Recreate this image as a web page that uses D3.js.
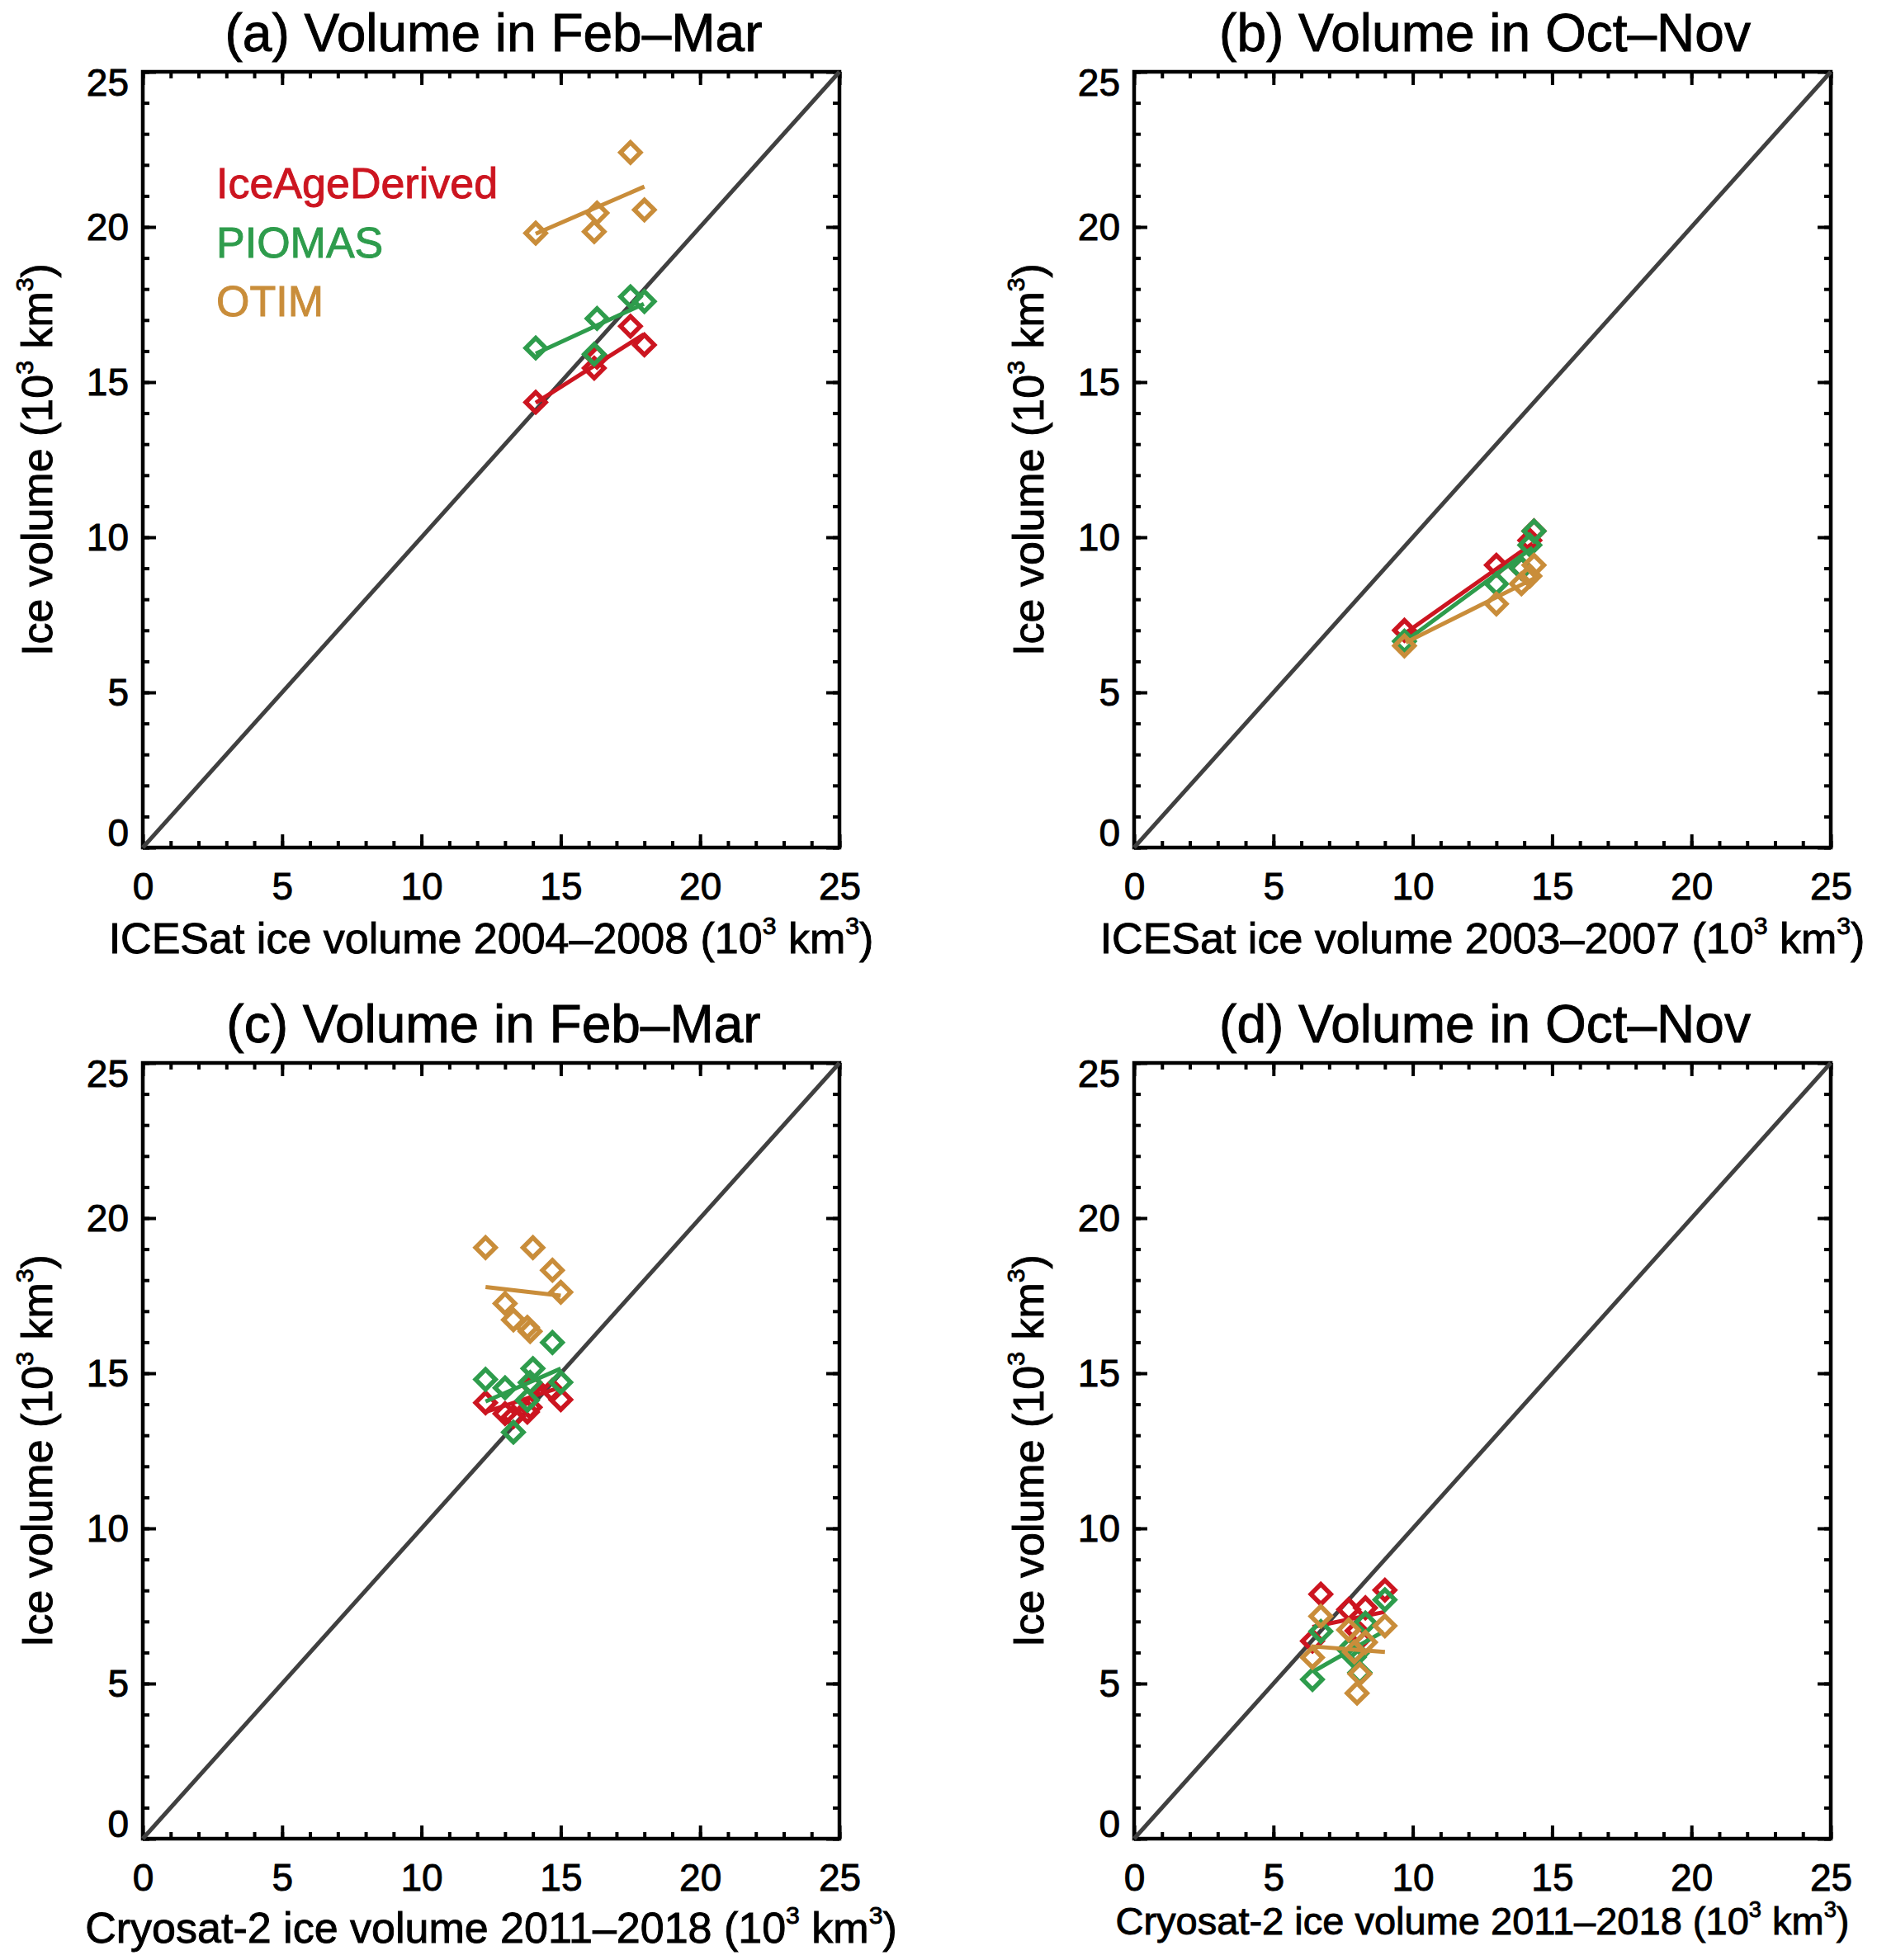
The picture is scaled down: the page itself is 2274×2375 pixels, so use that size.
<!DOCTYPE html>
<html>
<head>
<meta charset="utf-8">
<script src="https://cdn.jsdelivr.net/npm/d3@7"></script>
<style>
  body { margin: 0; background: #fff; }
  text { font-family: "Liberation Sans", Arial, Helvetica, sans-serif; }
</style>
</head>
<body>
<div id="chart"></div>
<script>
//Series Names and Colours (same order in every panel)
let seriesNames = ["IceAgeDerived", "PIOMAS", "OTIM"];
let seriesColors = ["#cc1520", "#2e9c4c", "#c98d3a"];

//Tick Values for Both Axes
let majorTicks = [0, 5, 10, 15, 20, 25];
let minorTicks = d3.range(0, 26, 1);

//(a) ICESat 2004-2008, Feb-Mar
let icesatFebMar = [14.1, 16.2, 16.3, 17.5, 18.0];
let iceAgeA = [14.35, 15.45, 15.8, 16.8, 16.2];
let piomasA = [16.1, 15.9, 17.05, 17.75, 17.6];
let otimA = [19.8, 19.85, 20.45, 22.4, 20.55];
//fit lines: [x1, y1, x2, y2]
let fitsA = [[14.1, 14.33, 17.98, 16.54], [14.1, 15.92, 17.98, 17.52], [14.1, 19.78, 18.0, 21.3]];

//(b) ICESat 2003-2007, Oct-Nov
let icesatOctNov = [9.7, 13.0, 13.9, 14.2, 14.35];
let iceAgeB = [7.0, 9.1, 9.0, 9.9, 10.2];
let piomasB = [6.65, 8.5, 9.0, 9.75, 10.2];
let otimB = [6.5, 7.85, 8.5, 8.75, 9.1];
let fitsB = [[9.75, 6.92, 14.3, 9.8], [9.75, 6.66, 14.3, 9.67], [9.75, 6.61, 14.5, 8.74]];

//(c) Cryosat-2 2011-2018, Feb-Mar
let cryosatFebMar = [12.3, 13.0, 13.3, 13.8, 13.9, 14.0, 14.7, 15.0];
let iceAgeC = [14.05, 13.7, 13.6, 13.75, 13.9, 14.6, 14.45, 14.15];
let piomasC = [14.8, 14.53, 13.1, 14.13, 14.7, 15.15, 15.99, 14.71];
let otimC = [19.05, 17.25, 16.72, 16.48, 16.35, 19.05, 18.32, 17.61];
let fitsC = [[12.3, 13.75, 15.0, 14.55], [12.3, 14.09, 15.0, 15.15], [12.3, 17.78, 15.0, 17.5]];

//(d) Cryosat-2 2011-2018, Oct-Nov
let cryosatOctNov = [6.4, 6.7, 7.7, 7.9, 8.0, 8.1, 8.3, 9.0];
let iceAgeD = [6.37, 7.88, 7.39, 5.89, 6.7, 6.45, 7.44, 8.01];
let piomasD = [5.13, 6.68, 6.1, 5.85, 5.98, 5.35, 6.95, 7.7];
let otimD = [5.84, 7.17, 6.73, 6.02, 4.69, 5.31, 6.33, 6.86];
let fitsD = [[6.4, 6.82, 9.0, 7.31], [6.45, 5.4, 8.95, 6.68], [6.35, 6.2, 9.0, 6.02]];

//Panel Settings Built From the Arrays Above
let panels = [
  {title: "(a) Volume in Feb–Mar", xText: "ICESat ice volume 2004–2008 (10", xSize: 52, xBase: 128,
   x: icesatFebMar, ys: [iceAgeA, piomasA, otimA], fits: fitsA, legend: true, col: 0, row: 0},
  {title: "(b) Volume in Oct–Nov", xText: "ICESat ice volume 2003–2007 (10", xSize: 52, xBase: 128,
   x: icesatOctNov, ys: [iceAgeB, piomasB, otimB], fits: fitsB, legend: false, col: 1, row: 0},
  {title: "(c) Volume in Feb–Mar", xText: "Cryosat-2 ice volume 2011–2018 (10", xSize: 52, xBase: 126,
   x: cryosatFebMar, ys: [iceAgeC, piomasC, otimC], fits: fitsC, legend: false, col: 0, row: 1},
  {title: "(d) Volume in Oct–Nov", xText: "Cryosat-2 ice volume 2011–2018 (10", xSize: 47, xBase: 116,
   x: cryosatOctNov, ys: [iceAgeD, piomasD, otimD], fits: fitsD, legend: false, col: 1, row: 1}
];

//SVG Size and Plot Box Inside Each Panel
let svgWidth = 2274;
let svgHeight = 2375;
let panelStep = 1201;
let margin = {top: 87, left: 173};
let width = 844;
let height = 940;

let svg = d3.select("#chart")
  .append("svg")
  .attr("width", svgWidth)
  .attr("height", svgHeight);

svg.append("rect")
  .attr("width", svgWidth)
  .attr("height", svgHeight)
  .attr("fill", "white");

//Write Text With Superscript 3s, like "(10^3 km^3)"
function addUnits(textSel, lead, size) {
  let parts = [[lead, false], ["3", true], [" km", false], ["3", true], [")", false]];
  let lift = size * 0.45;
  let prevSup = false;
  parts.forEach(function (p) {
    let t = textSel.append("tspan").text(p[0]);
    if (p[1]) {
      t.attr("font-size", size * 0.58).attr("dy", -lift);
    } else {
      t.attr("font-size", size);
      if (prevSup) t.attr("dy", lift);
    }
    prevSup = p[1];
  });
}

//IDL-looking text is a little heavier than the plain font
function heavy(sel, color) {
  sel.attr("fill", color).attr("stroke", color).attr("stroke-width", 0.9);
}

function styleAxis(g) {
  g.select(".domain").remove();
  g.attr("font-family", null).attr("font-size", null);
  g.selectAll(".tick line").attr("stroke", "black").attr("stroke-width", 4);
}

panels.forEach(function (p) {
  let g = svg.append("g")
    .attr("transform", `translate(${p.col * panelStep}, ${p.row * panelStep})`);

  let xScale = d3.scaleLinear().domain([0, 25]).range([margin.left, margin.left + width]);
  let yScale = d3.scaleLinear().domain([0, 25]).range([margin.top + height, margin.top]);

  //Major and Minor Ticks on All Four Sides, Pointing Inwards
  [[d3.axisBottom(xScale), `translate(0, ${margin.top + height})`],
   [d3.axisTop(xScale), `translate(0, ${margin.top})`],
   [d3.axisLeft(yScale), `translate(${margin.left}, 0)`],
   [d3.axisRight(yScale), `translate(${margin.left + width}, 0)`]].forEach(function (a, i) {
    g.append("g").attr("transform", a[1])
      .call(a[0].tickValues(minorTicks).tickSize(-8).tickFormat(""))
      .call(styleAxis);
    let major = g.append("g").attr("transform", a[1])
      .call(a[0].tickValues(majorTicks).tickSize(-16)
        .tickPadding(i === 0 ? 30 : 17)
        .tickFormat(i === 0 || i === 2 ? d3.format("d") : ""))
      .call(styleAxis);
    major.selectAll("text").attr("font-size", 46).call(heavy, "black");
    if (i === 2) {
      //end labels sit just inside the box
      major.selectAll("text").attr("dy", d => d === 0 ? "-0.05em" : d === 25 ? "0.62em" : "0.34em");
    }
  });

  //Plot Box
  g.append("rect")
    .attr("x", margin.left)
    .attr("y", margin.top)
    .attr("width", width)
    .attr("height", height)
    .attr("fill", "none")
    .attr("stroke", "black")
    .attr("stroke-width", 4.5);

  //1:1 Line
  g.append("line")
    .attr("x1", xScale(0)).attr("y1", yScale(0))
    .attr("x2", xScale(25)).attr("y2", yScale(25))
    .attr("stroke", "#404040")
    .attr("stroke-width", 5);

  //Fit Lines and Diamonds for Each Series
  p.ys.forEach(function (ys, s) {
    let f = p.fits[s];
    g.append("line")
      .attr("x1", xScale(f[0])).attr("y1", yScale(f[1]))
      .attr("x2", xScale(f[2])).attr("y2", yScale(f[3]))
      .attr("stroke", seriesColors[s])
      .attr("stroke-width", 5);

    let pts = p.x.map((xv, k) => ({x: xv, y: ys[k]}));
    g.selectAll(null)
      .data(pts)
      .enter()
      .append("path")
      .attr("d", d3.symbol(d3.symbolSquare, 290))
      .attr("transform", d => `translate(${xScale(d.x)}, ${yScale(d.y)}) rotate(45)`)
      .attr("fill", "none")
      .attr("stroke", seriesColors[s])
      .attr("stroke-width", 5.5);
  });

  //Title
  g.append("text")
    .attr("x", margin.left + width / 2 + 3)
    .attr("y", 62)
    .attr("text-anchor", "middle")
    .attr("font-size", 64)
    .call(heavy, "black")
    .text(p.title);

  //Axis Titles
  let xt = g.append("text")
    .attr("x", margin.left + width / 2)
    .attr("y", margin.top + height + p.xBase)
    .attr("text-anchor", "middle")
    .call(heavy, "black");
  addUnits(xt, p.xText, p.xSize);

  let yt = g.append("text")
    .attr("transform", `translate(63, ${margin.top + height / 2}) rotate(-90)`)
    .attr("text-anchor", "middle")
    .call(heavy, "black");
  addUnits(yt, "Ice volume (10", 52);

  //Legend in Panel (a)
  if (p.legend) {
    g.selectAll(null)
      .data(seriesNames)
      .enter()
      .append("text")
      .attr("x", 262)
      .attr("y", (d, i) => 240 + i * 71.5)
      .attr("font-size", 52)
      .each(function (d, i) { d3.select(this).call(heavy, seriesColors[i]); })
      .text(d => d);
  }
});
</script>
</body>
</html>
